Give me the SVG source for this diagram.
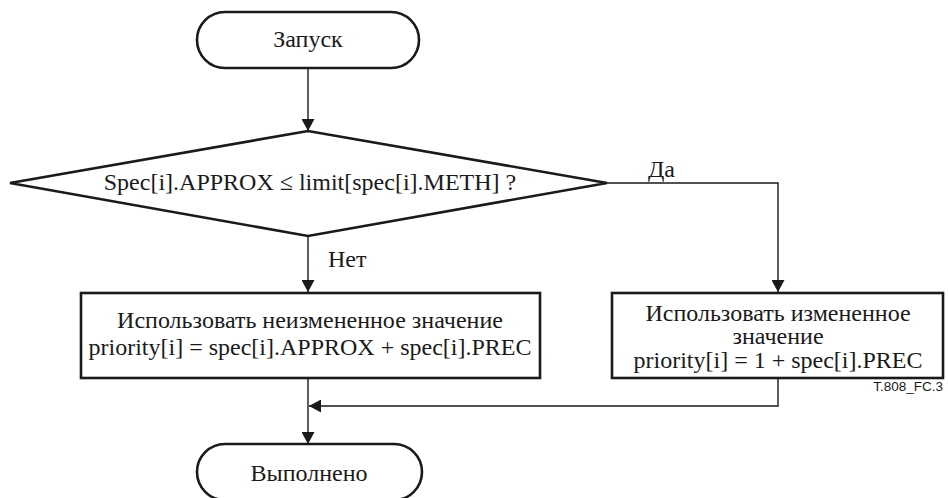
<svg xmlns="http://www.w3.org/2000/svg" width="948" height="498" viewBox="0 0 948 498">
  <style>
    .shape { fill: #ffffff; stroke: #1a1a1a; stroke-width: 2.6; }
    .line { fill: none; stroke: #1a1a1a; stroke-width: 1.4; }
    .txt { font-family: "Liberation Serif", "Times New Roman", serif; font-size: 24px; fill: #1a1a1a; }
    .mid { text-anchor: middle; }
    .tag { font-family: "Liberation Sans", Arial, sans-serif; font-size: 13.5px; fill: #1a1a1a; text-anchor: end; }
  </style>
  <defs>
    <marker id="arrow" markerUnits="userSpaceOnUse" markerWidth="13" markerHeight="13" refX="12" refY="6.5" orient="auto">
      <path d="M0,0 L12,6.5 L0,13 Z" fill="#1a1a1a"/>
    </marker>
  </defs>
  <rect width="948" height="498" fill="#ffffff"/>

  <!-- connectors -->
  <g id="connectors">
    <line class="line" x1="308" y1="68" x2="308" y2="131" marker-end="url(#arrow)"/>
    <polyline class="line" points="607,183 778,183 778,292" marker-end="url(#arrow)"/>
    <line class="line" x1="308" y1="236" x2="308" y2="292" marker-end="url(#arrow)"/>
    <line class="line" x1="308" y1="378" x2="308" y2="444" marker-end="url(#arrow)"/>
    <polyline class="line" points="778,378 778,406 309,406" marker-end="url(#arrow)"/>
    <text class="txt" x="648" y="177">Да</text>
    <text class="txt" x="328" y="267">Нет</text>
  </g>

  <!-- start terminal -->
  <g id="start">
    <rect class="shape" x="197" y="12" width="222" height="56" rx="28" ry="28"/>
    <text class="txt mid" x="308" y="47">Запуск</text>
  </g>

  <!-- decision -->
  <g id="decision">
    <polygon class="shape" points="10,183 308,131 607,183 308,236"/>
    <text class="txt mid" x="310" y="190">Spec[i].APPROX ≤ limit[spec[i].METH] ?</text>
  </g>

  <!-- unchanged value -->
  <g id="unchanged">
    <rect class="shape" x="81" y="293" width="459" height="85"/>
    <text class="txt mid" x="310" y="328">Использовать неизмененное значение</text>
    <text class="txt mid" x="310" y="355">priority[i] = spec[i].APPROX + spec[i].PREC</text>
  </g>

  <!-- changed value -->
  <g id="changed">
    <rect class="shape" x="612" y="293" width="331" height="85"/>
    <text class="txt mid" x="778" y="321">Использовать измененное</text>
    <text class="txt mid" x="778" y="344">значение</text>
    <text class="txt mid" x="778" y="368">priority[i] = 1 + spec[i].PREC</text>
  </g>

  <!-- end terminal -->
  <g id="done">
    <rect class="shape" x="197" y="444" width="225" height="56" rx="28" ry="28"/>
    <text class="txt mid" x="309" y="481">Выполнено</text>
  </g>

  <text class="tag" x="943" y="391">T.808_FC.3</text>
</svg>
